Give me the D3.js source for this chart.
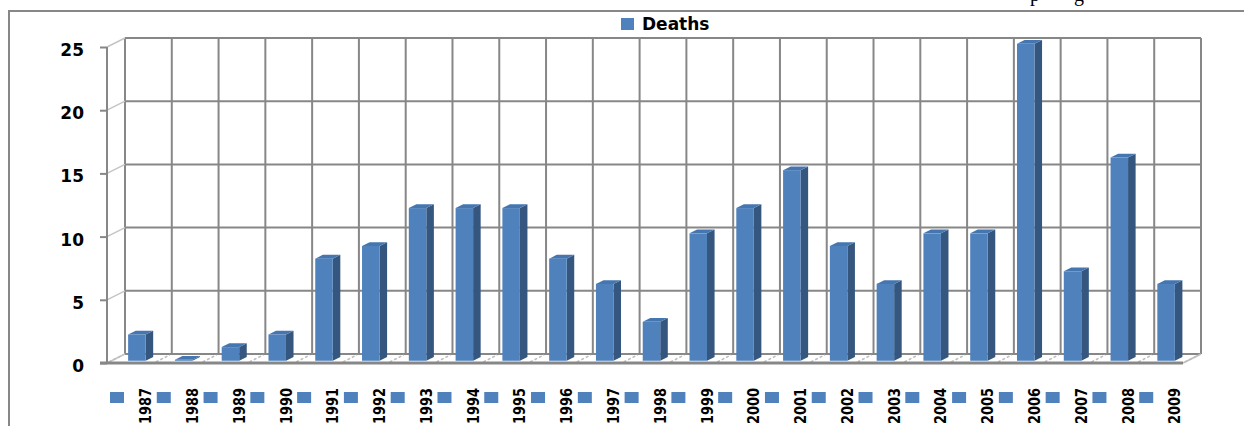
<!DOCTYPE html>
<html>
<head>
<meta charset="utf-8">
<script src="https://cdn.jsdelivr.net/npm/d3@7"></script>
<style>
  html, body { margin: 0; padding: 0; background: #ffffff; }
  svg { display: block; }
</style>
</head>
<body>
<svg id="chart" width="1244" height="426"></svg>
<script>
// ---- data ----
const years = ["1987","1988","1989","1990","1991","1992","1993","1994","1995","1996","1997","1998",
               "1999","2000","2001","2002","2003","2004","2005","2006","2007","2008","2009"];
const deaths = [2,0,1,2,8,9,12,12,12,8,6,3,10,12,15,9,6,10,10,25,7,16,6];
const yTicks = [0,5,10,15,20,25];
const seriesName = "Deaths";

// ---- layout ----
const svg = d3.select("#chart");
const W = 1244, H = 426;
const DX = 18, DY = -9;          // depth offset of back wall
const dFront = 0.36, dBack = 0.78; // bar depth range
const grid = "#878787";
const blue = "#4f81bd", blueSide = "#34567f", blueTop = "#4676b0";
const font = "'DejaVu Sans', sans-serif";

const x = d3.scaleBand().domain(years).range([107, 1183]);
const y = d3.scaleLinear().domain([0, 25]).range([363, 47]);
const bw = x.bandwidth();
const barW = 17.5;

// remnants of document text above the chart
svg.append("text").attr("x", 1030).attr("y", 1).attr("font-family", "'Liberation Serif', serif")
  .attr("font-size", 20).attr("fill", "#000").text("p");
svg.append("text").attr("x", 1074).attr("y", 1).attr("font-family", "'Liberation Serif', serif")
  .attr("font-size", 20).attr("fill", "#000").text("g");

// outer frame
svg.append("line").attr("x1", 9).attr("x2", W).attr("y1", 11).attr("y2", 11)
  .attr("stroke", grid).attr("stroke-width", 2);
svg.append("line").attr("x1", 9).attr("x2", 9).attr("y1", 10).attr("y2", H)
  .attr("stroke", grid).attr("stroke-width", 2);

const walls = svg.append("g");
const x0 = x.range()[0], x1 = x.range()[1];

// back wall horizontal gridlines
walls.selectAll(".hg").data(yTicks).join("line")
  .attr("x1", x0 + DX).attr("x2", x1 + DX)
  .attr("y1", d => y(d) + DY).attr("y2", d => y(d) + DY)
  .attr("stroke", grid).attr("stroke-width", 2);

// back wall vertical gridlines (band boundaries)
const bounds = years.map(d => x(d)).concat([x1]);
walls.selectAll(".vg").data(bounds).join("line")
  .attr("x1", d => d + DX).attr("x2", d => d + DX)
  .attr("y1", y(25) + DY).attr("y2", y(0) + DY)
  .attr("stroke", grid).attr("stroke-width", 2);

// side wall diagonals
walls.selectAll(".sg").data(yTicks).join("line")
  .attr("x1", x0).attr("y1", d => y(d))
  .attr("x2", x0 + DX).attr("y2", d => y(d) + DY)
  .attr("stroke", "#c4c4c4").attr("stroke-width", 1.5);

// floor hatches
walls.selectAll(".fg").data(bounds).join("line")
  .attr("x1", d => d + 2).attr("y1", y(0) - 1)
  .attr("x2", d => d + DX - 2).attr("y2", y(0) + DY + 1)
  .attr("stroke", "#bdbdbd").attr("stroke-width", 1.5)
  .attr("stroke-dasharray", "3,2");

// floor right edge
walls.append("line").attr("x1", x1).attr("y1", y(0)).attr("x2", x1 + DX).attr("y2", y(0) + DY)
  .attr("stroke", "#bdbdbd").attr("stroke-width", 1.5);

// ---- bars ----
const sx = DX * (dBack - dFront), sy = DY * (dBack - dFront);
const bars = svg.append("g");
years.forEach((yr, i) => {
  const v = deaths[i];
  const bx = x(yr) + (bw - barW) / 2 + DX * dFront;
  const top = y(v) + DY * dFront;
  const bot = y(0) + DY * dFront + 1;
  const g = bars.append("g");
  g.append("polygon")
    .attr("points", [[bx + barW, top], [bx + barW + sx, top + sy], [bx + barW + sx, bot + sy], [bx + barW, bot]].join(" "))
    .attr("fill", blueSide);
  g.append("polygon")
    .attr("points", [[bx, top], [bx + sx, top + sy], [bx + barW + sx, top + sy], [bx + barW, top]].join(" "))
    .attr("fill", blueTop);
  g.append("rect").attr("x", bx).attr("y", top).attr("width", barW).attr("height", Math.max(0, bot - top))
    .attr("fill", blue);
});

// floor front edge and value axis
svg.append("line").attr("x1", 100).attr("x2", x1).attr("y1", y(0)).attr("y2", y(0))
  .attr("stroke", grid).attr("stroke-width", 3);

const yAxis = d3.axisLeft(y).tickValues(yTicks).tickSize(7).tickPadding(16).tickFormat(d3.format("d"));
const ax = svg.append("g").attr("transform", `translate(${x0},0)`).call(yAxis);
ax.select(".domain").attr("stroke", grid).attr("stroke-width", 2).attr("d", `M0,${y(25)}V${y(0)}`);
ax.selectAll(".tick line").attr("stroke", grid).attr("stroke-width", 2);
ax.selectAll(".tick text").attr("font-family", font).attr("font-weight", "bold")
  .attr("font-size", 17).attr("fill", "#000").attr("dy", "0.5em");

// ---- legend ----
const lg = svg.append("g");
lg.append("rect").attr("x", 621).attr("y", 18).attr("width", 13).attr("height", 12).attr("fill", blue);
lg.append("text").attr("x", 642).attr("y", 30).attr("font-family", font).attr("font-weight", "bold")
  .attr("font-size", 17).attr("fill", "#000").text(seriesName);

// ---- category labels with keys ----
const cat = svg.append("g");
cat.selectAll("text").data(years).join("text")
  .attr("transform", d => `translate(${x(d) + bw / 2 + 15},388) rotate(-90)`)
  .attr("text-anchor", "end").attr("dy", "0.36em")
  .attr("textLength", 36).attr("lengthAdjust", "spacingAndGlyphs")
  .attr("font-family", font).attr("font-weight", "bold").attr("font-size", 16).attr("fill", "#000")
  .text(d => d);
cat.selectAll("rect").data(years).join("rect")
  .attr("x", d => x(d) + 3).attr("y", 392).attr("width", 14).attr("height", 11)
  .attr("fill", blue);
</script>
</body>
</html>
